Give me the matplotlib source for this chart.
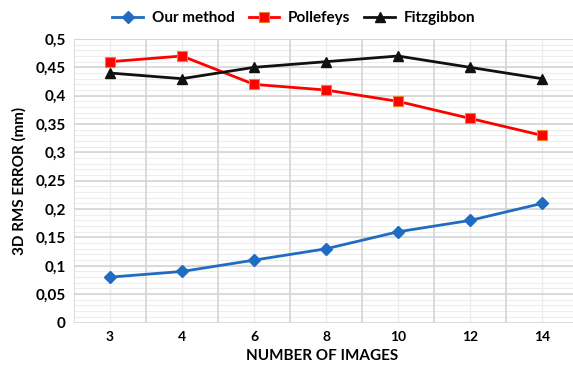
import matplotlib
matplotlib.use("Agg")
import matplotlib.pyplot as plt
import numpy as np
from matplotlib.ticker import MultipleLocator

categories = ["3", "4", "6", "8", "10", "12", "14"]
our_method = [0.08, 0.09, 0.11, 0.13, 0.16, 0.18, 0.21]
pollefeys = [0.46, 0.47, 0.42, 0.41, 0.39, 0.36, 0.33]
fitzgibbon = [0.44, 0.43, 0.45, 0.46, 0.47, 0.45, 0.43]
y_ticks = [0, 0.05, 0.1, 0.15, 0.2, 0.25, 0.3, 0.35, 0.4, 0.45, 0.5]
y_tick_labels = ["0", "0,05", "0,1", "0,15", "0,2", "0,25", "0,3", "0,35", "0,4", "0,45", "0,5"]

plt.rcParams['font.family'] = ['Lato', 'DejaVu Sans']

fig = plt.figure(figsize=(5.73, 3.66), dpi=100)
ax = fig.add_axes([74/573, 1-322.5/366, 504/573, (322.5-39)/366])

x = np.arange(len(categories))
ax.plot(x, our_method, color="#1f6cc0", lw=2, marker="D", ms=6, label="Our method", zorder=3)
ax.plot(x, pollefeys, color="#ff0000", lw=2, marker="s", ms=7, mfc="#ff0000", mec="#f08020", mew=0.8, label="Pollefeys", zorder=3)
ax.plot(x, fitzgibbon, color="#111111", lw=2, marker="^", ms=7, label="Fitzgibbon", zorder=3)

ax.set_xlim(-0.5, len(categories) - 0.5)
ax.set_ylim(0, 0.5)
ax.set_xticks(x)
ax.set_xticklabels(categories, fontsize=10, fontweight="bold")
ax.set_yticks(y_ticks)
ax.set_yticklabels(y_tick_labels, fontsize=11, fontweight="bold")
ax.yaxis.set_minor_locator(MultipleLocator(0.01))

# grid lines
for xb in np.arange(-0.5, len(categories) + 0.5, 1.0):
    ax.axvline(xb, color="#d4d4d4", lw=1.2, zorder=1)
for xc in x:
    ax.axvline(xc, color="#ececec", lw=1.0, zorder=0.5)
for yv in np.arange(0, 0.501, 0.01):
    ax.axhline(yv, color="#ededed", lw=0.8, zorder=0.4)
for yv in y_ticks:
    ax.axhline(yv, color="#d4d4d4", lw=1.2, zorder=1)

for s in ax.spines.values():
    s.set_visible(False)
ax.tick_params(axis="both", which="both", length=0)
ax.tick_params(axis="x", pad=6)
ax.tick_params(axis="y", pad=6)

ax.set_ylabel("3D RMS ERROR (mm)", fontsize=11, fontweight="bold", labelpad=6)
fig.text(322/573, 1-356/366, "NUMBER OF IMAGES", ha="center", va="center", fontsize=11, fontweight="bold")

leg = fig.legend(loc="center", bbox_to_anchor=(294/573, 1-18/366), ncol=3, frameon=False,
                 prop={"size": 11, "weight": "bold"}, handlelength=2.0, columnspacing=0.9, handletextpad=0.6)

fig.savefig("out.png", dpi=100)
